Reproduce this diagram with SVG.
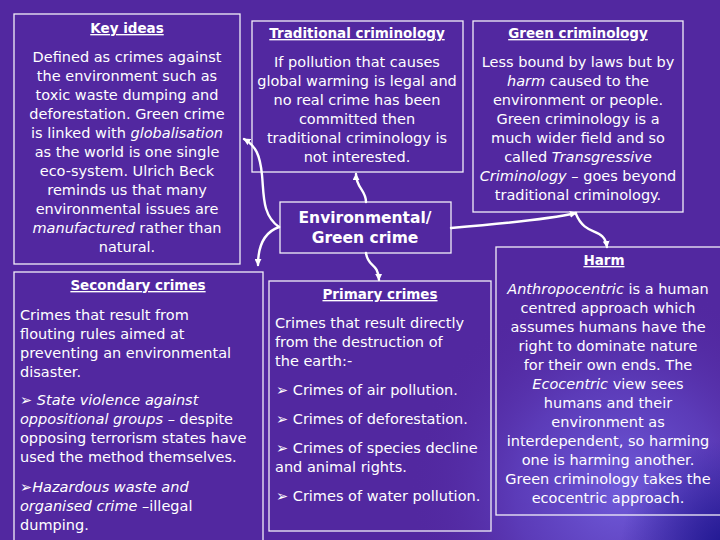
<svg xmlns="http://www.w3.org/2000/svg" width="720" height="540" viewBox="0 0 720 540">
<defs>
<radialGradient id="glow" cx="620" cy="490" r="210" gradientUnits="userSpaceOnUse">
<stop offset="0" stop-color="#7868E8" stop-opacity="0.8"/>
<stop offset="0.5" stop-color="#6A58DC" stop-opacity="0.4"/>
<stop offset="1" stop-color="#5228A0" stop-opacity="0"/>
</radialGradient>
<radialGradient id="corner" cx="730" cy="550" r="110" gradientUnits="userSpaceOnUse">
<stop offset="0" stop-color="#1C1690" stop-opacity="1"/>
<stop offset="1" stop-color="#1C1690" stop-opacity="0"/>
</radialGradient>
<marker id="ah" viewBox="0 0 8 8" refX="7" refY="4" markerWidth="7" markerHeight="7" markerUnits="userSpaceOnUse" orient="auto">
<path d="M0,0 L8,4 L0,8 z" fill="#fff"/>
</marker>
</defs>
<style>
.bx{fill:none;stroke:#F2EEF8;stroke-width:1.3}
text{font-family:"DejaVu Sans","Liberation Sans",sans-serif;fill:#fff}
.b{font-size:14.5px}
.c{text-anchor:middle}
.h{font-size:13.5px;font-weight:bold;text-decoration:underline}
.e{font-size:15.5px;font-weight:bold}
.i{font-style:italic}
.cn path{fill:none;stroke:#fff;stroke-width:2.4;stroke-linecap:round}
</style>
<rect x="0" y="0" width="720" height="540" fill="#5228A0"/>
<rect x="0" y="0" width="720" height="540" fill="url(#glow)"/>
<rect x="0" y="0" width="720" height="540" fill="url(#corner)"/>

<g id="key-ideas">
<rect class="bx" x="14" y="14" width="226" height="250"/>
<text class="h c" x="127" y="33">Key ideas</text>
<text class="b c" x="127" y="62">Defined as crimes against</text>
<text class="b c" x="127" y="81">the environment such as</text>
<text class="b c" x="127" y="100">toxic waste dumping and</text>
<text class="b c" x="127" y="119">deforestation.  Green crime</text>
<text class="b c" x="127" y="138">is linked with <tspan class="i">globalisation</tspan></text>
<text class="b c" x="127" y="157">as the world is one single</text>
<text class="b c" x="127" y="176">eco-system. Ulrich Beck</text>
<text class="b c" x="127" y="195">reminds us that many</text>
<text class="b c" x="127" y="214">environmental issues are</text>
<text class="b c" x="127" y="233"><tspan class="i">manufactured</tspan>  rather than</text>
<text class="b c" x="127" y="252">natural.</text>
</g>

<g id="traditional">
<rect class="bx" x="252" y="21" width="211" height="151"/>
<text class="h c" x="357" y="38">Traditional criminology</text>
<text class="b c" x="357" y="67">If pollution that causes</text>
<text class="b c" x="357" y="86">global warming is legal and</text>
<text class="b c" x="357" y="105">no real crime has been</text>
<text class="b c" x="357" y="124">committed then</text>
<text class="b c" x="357" y="143">traditional criminology is</text>
<text class="b c" x="357" y="162">not interested.</text>
</g>

<g id="green-criminology">
<rect class="bx" x="473" y="21" width="210" height="191"/>
<text class="h c" x="578" y="38">Green criminology</text>
<text class="b c" x="578" y="67">Less bound by laws but by</text>
<text class="b c" x="578" y="86"><tspan class="i">harm</tspan> caused to the</text>
<text class="b c" x="578" y="105">environment or people.</text>
<text class="b c" x="578" y="124">Green criminology is a</text>
<text class="b c" x="578" y="143">much wider field and so</text>
<text class="b c" x="578" y="162">called <tspan class="i">Transgressive</tspan></text>
<text class="b c" x="578" y="181"><tspan class="i">Criminology</tspan> – goes beyond</text>
<text class="b c" x="578" y="200">traditional criminology.</text>
</g>

<g id="environmental">
<rect class="bx" x="280" y="202" width="171" height="51"/>
<text class="e c" x="365" y="223">Environmental/</text>
<text class="e c" x="365" y="243">Green crime</text>
</g>

<g id="secondary">
<rect class="bx" x="14" y="272" width="249" height="280"/>
<text class="h c" x="138" y="290">Secondary crimes</text>
<text class="b" x="20" y="320">Crimes that result from</text>
<text class="b" x="20" y="339">flouting rules aimed at</text>
<text class="b" x="20" y="358">preventing an environmental</text>
<text class="b" x="20" y="377">disaster.</text>
<text class="b" x="20" y="405">➢ <tspan class="i">State violence against</tspan></text>
<text class="b" x="20" y="424"><tspan class="i">oppositional groups</tspan> – despite</text>
<text class="b" x="20" y="443">opposing terrorism states have</text>
<text class="b" x="20" y="462">used the method themselves.</text>
<text class="b" x="20" y="492">➢<tspan class="i">Hazardous waste and</tspan></text>
<text class="b" x="20" y="511"><tspan class="i">organised crime</tspan> –illegal</text>
<text class="b" x="20" y="530">dumping.</text>
</g>

<g id="primary">
<rect class="bx" x="269" y="281" width="222" height="250"/>
<text class="h c" x="380" y="299">Primary crimes</text>
<text class="b" x="275" y="328">Crimes that result directly</text>
<text class="b" x="275" y="347">from the destruction of</text>
<text class="b" x="275" y="366">the earth:-</text>
<text class="b" x="276" y="395">➢ Crimes of air pollution.</text>
<text class="b" x="276" y="424">➢ Crimes of deforestation.</text>
<text class="b" x="276" y="453">➢ Crimes of species decline</text>
<text class="b" x="275" y="472">and animal rights.</text>
<text class="b" x="276" y="501">➢ Crimes of water pollution.</text>
</g>

<g id="harm">
<rect class="bx" x="496" y="247" width="240" height="268"/>
<text class="h c" x="604" y="265">Harm</text>
<text class="b c" x="608" y="294"><tspan class="i">Anthropocentric</tspan> is a human</text>
<text class="b c" x="608" y="313">centred approach which</text>
<text class="b c" x="608" y="332">assumes humans have the</text>
<text class="b c" x="608" y="351">right to dominate nature</text>
<text class="b c" x="608" y="370">for their own ends.  The</text>
<text class="b c" x="608" y="389"><tspan class="i">Ecocentric</tspan> view sees</text>
<text class="b c" x="608" y="408">humans and their</text>
<text class="b c" x="608" y="427">environment as</text>
<text class="b c" x="608" y="446">interdependent, so harming</text>
<text class="b c" x="608" y="465">one is harming another.</text>
<text class="b c" x="608" y="484">Green criminology takes the</text>
<text class="b c" x="608" y="503">ecocentric approach.</text>
</g>

<g id="connectors" class="cn">
<path d="M366,202 C366,190 356,188 356,174" marker-end="url(#ah)"/>
<path d="M279,227 C262,215 264,195 262,175 C260,155 256,146 244,139" marker-end="url(#ah)"/>
<path d="M279,227 C265,232 258,245 258,265" marker-end="url(#ah)"/>
<path d="M366,253 C368,268 378,262 379,280" marker-end="url(#ah)"/>
<path d="M451,228 C500,224 545,220 576,213" marker-end="url(#ah)"/>
<path d="M576,214 C586,238 604,226 607,247" marker-end="url(#ah)"/>
</g>
</svg>
